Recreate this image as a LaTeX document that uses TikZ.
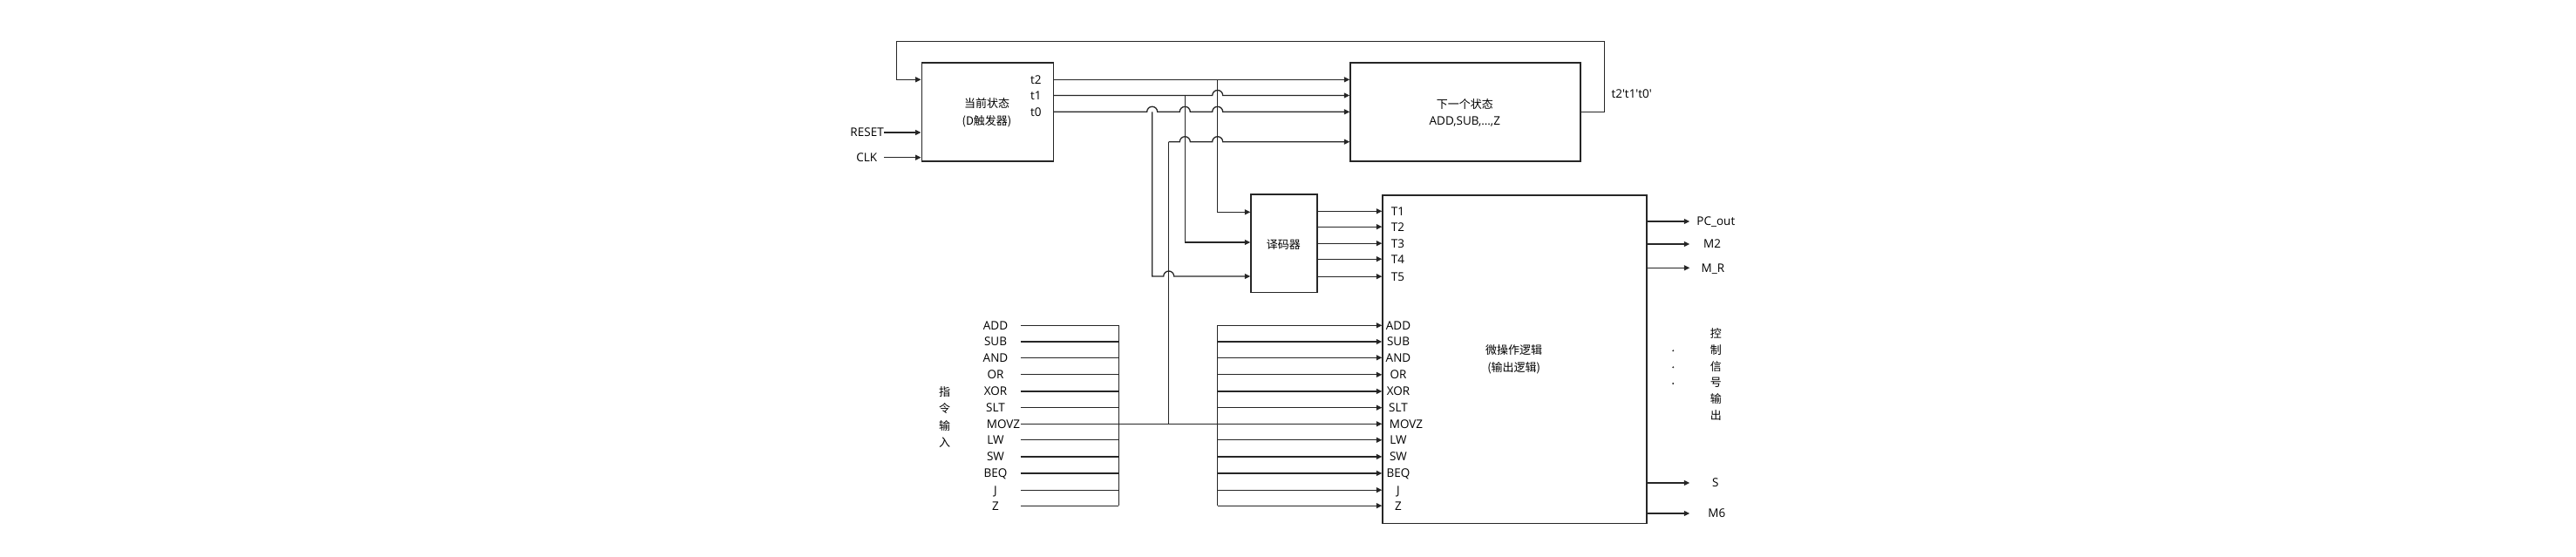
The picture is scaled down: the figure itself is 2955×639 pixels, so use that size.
\documentclass[tikz,border=0pt]{standalone}
\usepackage{fontspec}
\newfontfamily\lat{Open Sans}
\newfontfamily\cjk{Noto Sans CJK SC}
\usetikzlibrary{arrows.meta,calc}
\definecolor{lc}{HTML}{262626}
\begin{document}
\begin{tikzpicture}[x=1pt,y=-1pt,
  wire/.style={draw=lc,line width=1.3pt},
  arr/.style={-{Triangle[length=6.5pt,width=6pt]}},
  blk/.style={draw=lc,line width=1.3pt,inner sep=0pt,anchor=north west},
  lab/.style={font=\lat\fontsize{13.5}{16}\selectfont,inner sep=0pt,text height=9.7pt,text depth=0pt,text=black},
  cj/.style={font=\cjk\fontsize{13}{19.7}\selectfont,inner sep=0pt,align=center,text=black},
  hop/.style={}]
\useasboundingbox (0,0) rectangle (2955,639);
% boxes
\node[blk,minimum width=151pt,minimum height=113pt] (cur) at (1056.5,71.3) {};
\node[blk,minimum width=264pt,minimum height=113pt] (nxt) at (1548.3,71.3) {};
\node[blk,minimum width=76pt,minimum height=112.7pt] (dec) at (1434.3,222.3) {};
\node[blk,minimum width=303pt,minimum height=376.7pt] (mic) at (1585.3,223.3) {};
% box texts
\node[cj] (curtxt) at (1132,129.2) {当前状态\\(D触发器)};
\node[cj] (nxttxt) at (1680.3,119.3) {下一个状态};
\node[lab] (nxttxt2) at (1680.3,138.3) {ADD,SUB,…,Z};
\node[cj] (dectxt) at (1472.3,280.7) {译码器};
\node[cj] (mictxt) at (1736.7,412.5) {微操作逻辑\\(输出逻辑)};
% helper coordinates
\coordinate (v0) at (1321.7,0);
\coordinate (v3) at (1340.7,0);
\coordinate (v1) at (1359.3,0);
\coordinate (v2) at (1396.7,0);
\coordinate (m4) at (1340.7,162.7);
\coordinate (d1) at (1434.3,243.3);
\coordinate (d2) at (1434.3,278);
\coordinate (d3) at (1434.3,317);
\coordinate (xL) at (1170.5,0);
\coordinate (bL) at (1283.4,0);
\coordinate (bR) at (1396.5,0);
\coordinate (ox) at (1938.3,0);
\coordinate (fb1) at (1840.3,47.3);
\coordinate (fb2) at (1028.3,47.3);
% current state outputs
\node[lab] (t2) at (1188.3,91.3) {t2};
\node[lab] (t1) at (1188.3,109.5) {t1};
\node[lab] (t0) at (1188.3,128.3) {t0};
\node[lab] (reset) at (994.6,152) {RESET};
\node[lab] (clk) at (994.3,180.7) {CLK};
\draw[wire,arr] (reset.east) -- (cur.west |- reset);
\draw[wire,arr] (clk -| reset.east) -- (cur.west |- clk);
\draw[wire,arr] (cur.east |- t2) -- (nxt.west |- t2);
\draw[wire,arr] (cur.east |- t1) -- ($(v2|-t1)+(-6,0)$) arc[start angle=180,end angle=0,radius=6pt] -- (nxt.west |- t1);
\draw[wire,arr] (cur.east |- t0) -- ($(v0|-t0)+(-6,0)$) arc[start angle=180,end angle=0,radius=6pt]
  -- ($(v1|-t0)+(-6,0)$) arc[start angle=180,end angle=0,radius=6pt]
  -- ($(v2|-t0)+(-6,0)$) arc[start angle=180,end angle=0,radius=6pt] -- (nxt.west |- t0);
\draw[wire,arr] (m4) -- ($(v1|-m4)+(-6,0)$) arc[start angle=180,end angle=0,radius=6pt]
  -- ($(v2|-m4)+(-6,0)$) arc[start angle=180,end angle=0,radius=6pt] -- (nxt.west |- m4);
% feedback
\draw[wire,arr] (nxt.east |- t0) -| (fb1) -- (fb2) |- (cur.west |- t2);
\node[lab,anchor=west] (fbl) at (1848.3,107.3) {t2't1't0'};
% decoder inputs
\draw[wire,arr] (v2 |- t2) -- (v2 |- d1) -- (d1);
\draw[wire,arr] (v1 |- t1) -- (v1 |- d2) -- (d2);
\draw[wire,arr] (v0 |- t0) -- (v0 |- d3) -- ($(v3|-d3)+(-6,0)$) arc[start angle=180,end angle=0,radius=6pt] -- (d3);
% decoder outputs
\foreach \k/\y in {1/242.3,2/260.2,3/279.2,4/297.2,5/317.2}{
  \node[lab] (T\k) at (1603.5,\y) {T\k};
  \draw[wire,arr] (dec.east |- T\k) -- (mic.west |- T\k);
}
% instruction rows
\foreach \n/\y/\d [count=\i] in {ADD/373.3/0,SUB/392/0,AND/410.3/0,OR/429.8/0,XOR/448.9/0,SLT/467.7/0,MOVZ/486.3/9,LW/504.8/0,SW/523.9/0,BEQ/542.9/0,J/562.2/0,Z/580.2/0}{
  \node[lab] (l\i) at (1142+\d,\y) {\n};
  \node[lab] (r\i) at (1604+\d,\y) {\n};
  \draw[wire] (l\i -| xL) -- (l\i -| bL);
  \draw[wire,arr] (r\i -| bR) -- (r\i -| mic.west);
}
\draw[wire] (l1 -| bL) -- (l12 -| bL);
\draw[wire] (r1 -| bR) -- (r12 -| bR);
\draw[wire] (l7 -| bL) -- (l7 -| bR);
\draw[wire] (m4) -- (v3 |- l7);
\node[cj,font=\cjk\fontsize{13}{19.3}\selectfont] (instr) at (1083.7,478.5) {指\\令\\输\\入};
% outputs
\foreach \n/\x/\y [count=\i] in {PC\_out/1968.3/254,M2/1964/280,M\_R/1965/307.3,S/1967.7/554,M6/1969.3/589}{
  \node[lab] (o\i) at (\x,\y) {\n};
  \draw[wire,arr] (mic.east |- o\i) -- (ox |- o\i);
}
\fill[lc] (1919.3,402.3) circle[radius=1.1pt];
\fill[lc] (1919.3,421.3) circle[radius=1.1pt];
\fill[lc] (1919.3,440) circle[radius=1.1pt];
\node[cj,font=\cjk\fontsize{13}{18.9}\selectfont] (ctrl) at (1968.3,429.5) {控\\制\\信\\号\\输\\出};
\end{tikzpicture}
\end{document}
